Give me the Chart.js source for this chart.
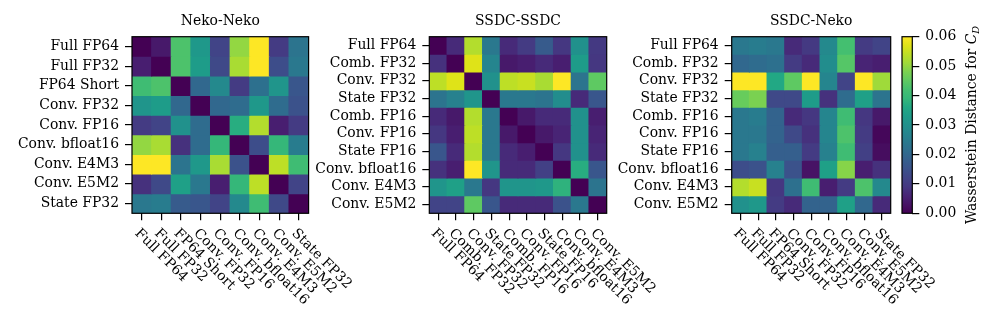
<!DOCTYPE html>
<html><head><meta charset="utf-8">
<script src="https://cdn.jsdelivr.net/npm/chart.js@4"></script>
<style>
html,body{margin:0;padding:0;background:#fff;}
#wrap{position:relative;width:996px;height:325px;background:#fff;overflow:hidden;}
canvas{position:absolute;left:0;top:0;}
</style></head><body>
<div id="wrap">
<canvas id="c1" width="996" height="325"></canvas>
<canvas id="c2" width="996" height="325"></canvas>
<canvas id="c3" width="996" height="325"></canvas>
<canvas id="c4" width="996" height="325"></canvas>
</div>
<script>
// ---- data ----
const nekoLabels = ["Full FP64","Full FP32","FP64 Short","Conv. FP32","Conv. FP16","Conv. bfloat16","Conv. E4M3","Conv. E5M2","State FP32"];
const ssdcLabels = ["Full FP64","Comb. FP32","Conv. FP32","State FP32","Comb. FP16","Conv. FP16","State FP16","Conv. bfloat16","Conv. E4M3","Conv. E5M2"];

const nekoNeko = [
  [0.000,0.004,0.043,0.032,0.012,0.050,0.060,0.010,0.023],
  [0.005,0.000,0.043,0.033,0.013,0.052,0.060,0.014,0.024],
  [0.041,0.043,0.000,0.020,0.028,0.010,0.022,0.031,0.016],
  [0.031,0.033,0.020,0.000,0.020,0.021,0.032,0.021,0.015],
  [0.010,0.012,0.030,0.021,0.000,0.037,0.053,0.005,0.010],
  [0.050,0.052,0.008,0.021,0.039,0.000,0.014,0.039,0.025],
  [0.060,0.060,0.023,0.032,0.052,0.015,0.000,0.054,0.041],
  [0.008,0.013,0.034,0.024,0.005,0.039,0.054,0.000,0.012],
  [0.024,0.025,0.017,0.016,0.012,0.028,0.041,0.013,0.000]
];
const ssdcSsdc = [
  [0.000,0.007,0.053,0.024,0.007,0.010,0.017,0.009,0.030,0.0095],
  [0.008,0.000,0.057,0.027,0.004,0.005,0.007,0.005,0.033,0.009],
  [0.054,0.057,0.000,0.030,0.054,0.055,0.052,0.060,0.023,0.045],
  [0.023,0.026,0.031,0.000,0.024,0.024,0.023,0.029,0.007,0.016],
  [0.007,0.004,0.053,0.024,0.000,0.004,0.007,0.007,0.030,0.005],
  [0.009,0.005,0.054,0.024,0.004,0.000,0.004,0.006,0.030,0.006],
  [0.016,0.007,0.053,0.024,0.007,0.005,0.000,0.009,0.030,0.007],
  [0.008,0.005,0.060,0.031,0.007,0.007,0.011,0.000,0.037,0.016],
  [0.031,0.034,0.024,0.009,0.031,0.031,0.032,0.038,0.000,0.023],
  [0.012,0.012,0.045,0.016,0.007,0.007,0.007,0.015,0.024,0.000]
];
const ssdcNeko = [
  [0.024,0.025,0.024,0.007,0.0095,0.028,0.042,0.010,0.012],
  [0.020,0.021,0.022,0.010,0.007,0.029,0.044,0.006,0.005],
  [0.060,0.060,0.036,0.045,0.060,0.027,0.012,0.060,0.051],
  [0.046,0.048,0.013,0.013,0.033,0.008,0.021,0.034,0.023],
  [0.024,0.025,0.019,0.007,0.009,0.027,0.041,0.009,0.004],
  [0.024,0.024,0.019,0.013,0.008,0.027,0.043,0.010,0.001],
  [0.024,0.026,0.018,0.018,0.010,0.026,0.041,0.011,0.002],
  [0.014,0.015,0.026,0.015,0.003,0.034,0.049,0.005,0.008],
  [0.053,0.055,0.009,0.022,0.041,0.005,0.010,0.043,0.028],
  [0.030,0.032,0.010,0.007,0.019,0.019,0.034,0.020,0.007]
];
const colorTicks = [0.00,0.01,0.02,0.03,0.04,0.05,0.06];
const vmin = 0.0, vmax = 0.06;

// ---- style ----
const FONT = "DejaVu Serif";
const FS = 13.9;
const TICKLEN = 7, TICKPAD = 6, LW = 1.2;
const YW = 130; // y-scale box width
const viridisStops = ["#440154","#471365","#482475","#453781","#414487","#3b528b","#355f8d","#2f6c8e","#2a788e","#25858e","#21918c","#1e9c89","#22a884","#35b779","#44bf70","#5ec962","#7ad151","#9fda3a","#bddf26","#dfe318","#fde725"];
function hex2rgb(h){return [parseInt(h.slice(1,3),16),parseInt(h.slice(3,5),16),parseInt(h.slice(5,7),16)];}
const stopsRGB = viridisStops.map(hex2rgb);
function viridis(t){
  t = Math.max(0, Math.min(1, t));
  const n = stopsRGB.length - 1;
  const p = t * n, i = Math.min(Math.floor(p), n - 1), f = p - i;
  const a = stopsRGB[i], b = stopsRGB[i+1];
  return `rgb(${Math.round(a[0]+(b[0]-a[0])*f)},${Math.round(a[1]+(b[1]-a[1])*f)},${Math.round(a[2]+(b[2]-a[2])*f)})`;
}

const frameTitlePlugin = {
  id: 'frameTitle',
  afterDraw(chart, args, opts) {
    const a = chart.chartArea, ctx = chart.ctx;
    ctx.save();
    ctx.strokeStyle = '#000'; ctx.lineWidth = LW;
    ctx.strokeRect(a.left, a.top, a.right - a.left, a.bottom - a.top);
    ctx.fillStyle = '#000';
    ctx.font = `${FS}px "${FONT}"`;
    if (opts.title) {
      ctx.textAlign = 'center'; ctx.textBaseline = 'alphabetic';
      ctx.fillText(opts.title, (a.left + a.right) / 2, a.top - 11.7);
    }
    if (opts.xLabels) {
      const xs = chart.scales.x;
      ctx.textAlign = 'left'; ctx.textBaseline = 'alphabetic';
      opts.xLabels.forEach((lab, i) => {
        const x = xs.getPixelForTick(i);
        const y = a.bottom + TICKLEN + TICKPAD;
        ctx.save(); ctx.translate(x, y); ctx.rotate(Math.PI / 4);
        ctx.fillText(lab, 0, 10.6);
        ctx.restore();
      });
    }
    ctx.restore();
  }
};

function makeHeatmap(id, rows, cols, matrix, area, title) {
  const datasets = rows.map((r, i) => ({
    label: r,
    data: cols.map(() => [i, i + 1]),
    backgroundColor: matrix[i].map(v => viridis((v - vmin) / (vmax - vmin))),
    borderWidth: 0,
    inflateAmount: 0.5,
    grouped: false,
    barPercentage: 1,
    categoryPercentage: 1
  }));
  return new Chart(document.getElementById(id), {
    type: 'bar',
    data: { labels: cols, datasets },
    plugins: [frameTitlePlugin],
    options: {
      responsive: false, animation: false, devicePixelRatio: 1,
      layout: { padding: { left: area.left - YW, right: 996 - area.right, top: area.top, bottom: 325 - area.bottom - 20 } },
      plugins: { legend: { display: false }, tooltip: { enabled: false }, frameTitle: { title, xLabels: cols } },
      scales: {
        x: {
          type: 'category', offset: true,
          grid: { offset: false, drawOnChartArea: false, drawTicks: true, tickLength: TICKLEN, lineWidth: LW, tickWidth: LW, tickColor: '#000', color: '#000' },
          border: { display: false },
          ticks: { display: false },
          afterFit: s => { s.height = 20; }
        },
        y: {
          type: 'linear', min: 0, max: rows.length, reverse: true,
          afterBuildTicks: s => { s.ticks = rows.map((_, i) => ({ value: i + 0.5 })); },
          ticks: { autoSkip: false, padding: TICKPAD, color: '#000', font: { family: FONT, size: FS }, callback: v => rows[Math.floor(v)] },
          grid: { drawOnChartArea: false, drawTicks: true, tickLength: TICKLEN, lineWidth: LW, tickWidth: LW, tickColor: '#000', color: '#000' },
          border: { display: false },
          afterFit: s => { s.width = YW; }
        }
      }
    }
  });
}

makeHeatmap('c1', nekoLabels, nekoLabels, nekoNeko, { left: 132, top: 36.7, right: 308.6, bottom: 213.3 }, 'Neko-Neko');
makeHeatmap('c2', ssdcLabels, ssdcLabels, ssdcSsdc, { left: 429.3, top: 36.7, right: 606.7, bottom: 213.3 }, 'SSDC-SSDC');
makeHeatmap('c3', ssdcLabels, nekoLabels, ssdcNeko, { left: 731.7, top: 36.7, right: 890.7, bottom: 213.3 }, 'SSDC-Neko');

// colorbar
const cbLabelPlugin = {
  id: 'cbLabel',
  afterDraw(chart) {
    const a = chart.chartArea, ctx = chart.ctx;
    ctx.save();
    ctx.strokeStyle = '#000'; ctx.lineWidth = LW;
    ctx.strokeRect(a.left, a.top, a.right - a.left, a.bottom - a.top);
    ctx.fillStyle = '#000';
    const main = 'Wasserstein Distance for ';
    const fMain = `${FS}px "${FONT}"`, fIt = `italic ${FS}px "${FONT}"`, fSub = `italic ${FS * 0.7}px "${FONT}"`;
    ctx.font = fMain; const w1 = ctx.measureText(main).width;
    ctx.font = fIt; const w2 = ctx.measureText('C').width;
    ctx.font = fSub; const w3 = ctx.measureText('D').width;
    const total = w1 + w2 + w3;
    const cy = (a.top + a.bottom) / 2;
    ctx.translate(976, cy + total / 2);
    ctx.rotate(-Math.PI / 2);
    ctx.textAlign = 'left'; ctx.textBaseline = 'alphabetic';
    ctx.font = fMain; ctx.fillText(main, 0, 0);
    ctx.font = fIt; ctx.fillText('C', w1, 0);
    ctx.font = fSub; ctx.fillText('D', w1 + w2, 2.5);
    ctx.restore();
  }
};
new Chart(document.getElementById('c4'), {
  type: 'bar',
  data: { labels: [''], datasets: [{
    data: [[vmin, vmax]],
    borderWidth: 0, barPercentage: 1, categoryPercentage: 1,
    backgroundColor: (c) => {
      const a = c.chart.chartArea; if (!a) return '#440154';
      const g = c.chart.ctx.createLinearGradient(0, a.bottom, 0, a.top);
      viridisStops.forEach((s, i) => g.addColorStop(i / (viridisStops.length - 1), s));
      return g;
    }
  }] },
  plugins: [cbLabelPlugin],
  options: {
    responsive: false, animation: false, devicePixelRatio: 1,
    layout: { padding: { left: 902, right: 996 - 912.3 - 60, top: 36.7, bottom: 325 - 213.3 } },
    plugins: { legend: { display: false }, tooltip: { enabled: false } },
    scales: {
      x: { display: false },
      y: {
        position: 'right', min: vmin, max: vmax,
        afterBuildTicks: s => { s.ticks = colorTicks.map(v => ({ value: v })); },
        ticks: { autoSkip: false, padding: TICKPAD, color: '#000', font: { family: FONT, size: FS }, callback: v => v.toFixed(2) },
        grid: { drawOnChartArea: false, drawTicks: true, tickLength: TICKLEN, lineWidth: LW, tickWidth: LW, tickColor: '#000', color: '#000' },
        border: { display: false },
        afterFit: s => { s.width = 60; }
      }
    }
  }
});
</script>
</body></html>
